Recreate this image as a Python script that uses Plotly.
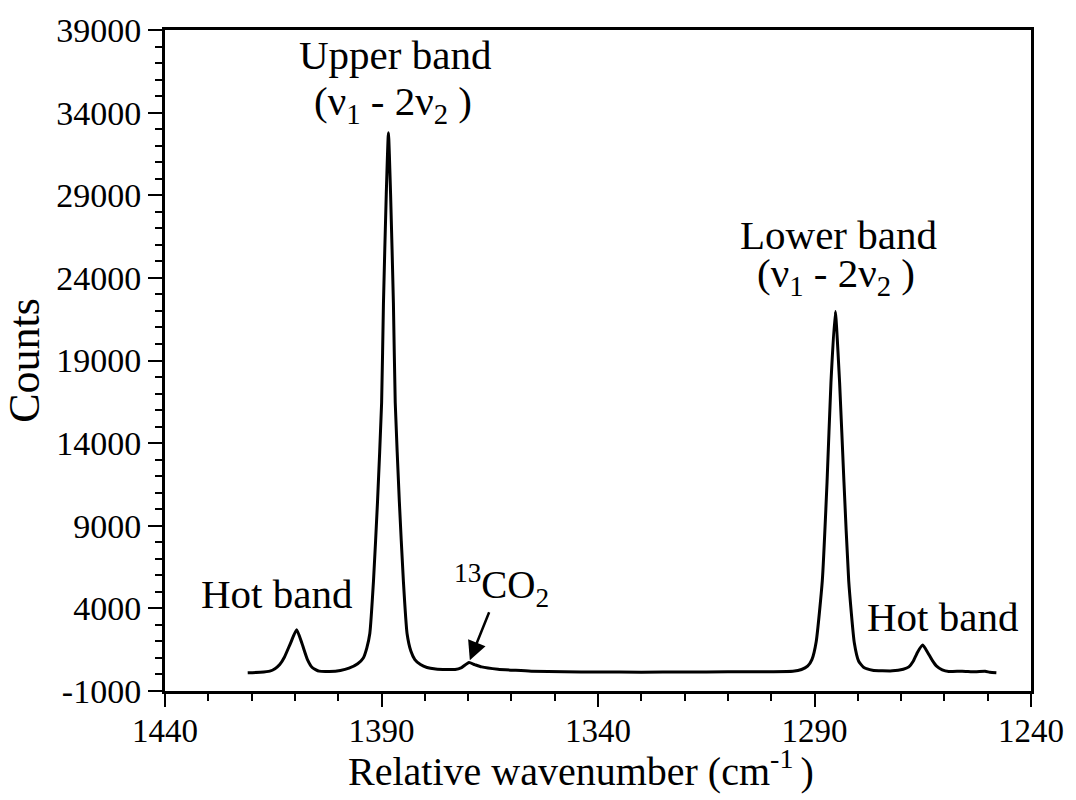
import plotly.graph_objects as go

# Spectrum (wavenumber, counts)
wavenumber = [1420.9, 1418.0, 1415.8, 1414.6, 1413.5, 1412.4, 1411.0, 1409.6, 1408.4, 1407.1,
              1406.0, 1404.4, 1402.0, 1399.5, 1397.5, 1395.5, 1394.2, 1393.4, 1392.7, 1391.85,
              1390.92, 1389.97, 1389.55, 1388.9, 1388.4, 1387.9, 1387.25, 1386.83, 1385.88, 1384.95,
              1384.1, 1383.2, 1382.3, 1381.0, 1379.5, 1377.5, 1375.0, 1373.0, 1371.5, 1369.8,
              1368.5, 1366.9, 1363.1, 1359.0, 1355.4, 1347.8, 1340.0, 1330.0, 1320.0, 1310.0,
              1300.0, 1295.0, 1293.0, 1291.6, 1290.6, 1289.6, 1288.2, 1287.1, 1286.2, 1285.2,
              1284.2, 1283.2, 1282.1, 1280.8, 1279.8, 1278.6, 1276.6, 1272.0, 1269.5, 1268.2,
              1267.2, 1266.2, 1265.0, 1263.9, 1262.8, 1261.8, 1260.5, 1259.0, 1255.9, 1252.9,
              1250.6, 1249.5, 1248.0]
counts = [100, 130, 200, 350, 600, 1060, 1900, 2700, 1900, 900,
          420, 200, 180, 240, 380, 650, 1000, 1600, 2480, 5660,
          10460, 16460, 22460, 29060, 32780, 29060, 22460, 16460, 10460, 5660,
          2480, 1400, 900, 600, 420, 330, 300, 300, 420, 720,
          600, 460, 320, 250, 200, 160, 150, 140, 150, 160,
          170, 200, 300, 500, 900, 2000, 5660, 11660, 17660, 21960,
          17660, 11660, 5660, 1900, 800, 420, 260, 220, 320, 460,
          800, 1350, 1780, 1350, 850, 500, 280, 180, 200, 160,
          200, 130, 100]

x_tickvals = [1440, 1390, 1340, 1290, 1240]
x_ticktext = ["1440", "1390", "1340", "1290", "1240"]
y_tickvals = [-1000, 4000, 9000, 14000, 19000, 24000, 29000, 34000, 39000]
y_ticktext = ["-1000", "4000", "9000", "14000", "19000", "24000", "29000", "34000", "39000"]

FONT = "Liberation Serif"

fig = go.Figure()
fig.add_trace(go.Scatter(x=wavenumber, y=counts, mode="lines",
                         line=dict(color="black", width=3, shape="spline", smoothing=0.5),
                         showlegend=False, hoverinfo="skip"))

def label(text, x, y, size=41):
    fig.add_annotation(x=x, y=y, xref="x", yref="y", text=text, showarrow=False,
                       xanchor="center", yanchor="middle",
                       font=dict(family=FONT, size=size, color="black"))

label("Upper band", 1386.96, 37500)
label("(ν<sub>1</sub> - 2ν<sub>2</sub> )", 1387.4, 34500)
label("Lower band", 1284.5, 26600)
label("(ν<sub>1</sub> - 2ν<sub>2</sub> )", 1285.0, 24100)
label("Hot band", 1414.3, 4900)
label("Hot band", 1260.4, 3500)
label("<sup>13</sup>CO<sub>2</sub>", 1362.2, 5400, size=39)

fig.add_annotation(x=1369.6, y=860, ax=1365.0, ay=3860, xref="x", yref="y",
                   axref="x", ayref="y", text="", showarrow=True,
                   arrowhead=2, arrowsize=1.5, arrowwidth=2.5, arrowcolor="black")

# x-axis title (placed as paper text to match the reference's slightly left offset)
fig.add_annotation(x=0.48, y=-0.118, xref="paper", yref="paper",
                   text="Relative wavenumber (cm<sup>-1 </sup>)", showarrow=False,
                   xanchor="center", yanchor="middle",
                   font=dict(family=FONT, size=40, color="black"))

fig.update_layout(
    width=1076, height=800,
    margin=dict(l=165, r=40, t=24, b=109),
    paper_bgcolor="white", plot_bgcolor="white",
    font=dict(family=FONT, color="black"),
)
fig.update_xaxes(
    range=[1440, 1240], tickvals=x_tickvals, ticktext=x_ticktext,
    ticks="outside", ticklen=13, tickwidth=2, tickcolor="black",
    minor=dict(dtick=10, tick0=1240, ticks="outside", ticklen=7, tickwidth=2, tickcolor="black"),
    showline=True, linewidth=3, linecolor="black", mirror=True,
    showgrid=False, zeroline=False, ticklabelstandoff=-5,
    tickfont=dict(family=FONT, size=33, color="black"),
)
fig.update_yaxes(
    range=[-1000, 39000], tickvals=y_tickvals, ticktext=y_ticktext,
    ticks="outside", ticklen=14, tickwidth=2, tickcolor="black",
    minor=dict(dtick=1000, tick0=-1000, ticks="outside", ticklen=7, tickwidth=2, tickcolor="black"),
    showline=True, linewidth=3, linecolor="black", mirror=True,
    showgrid=False, zeroline=False,
    tickfont=dict(family=FONT, size=34, color="black"),
    title=dict(text="Counts", font=dict(family=FONT, size=44, color="black"), standoff=12),
)

fig.write_html("out.html")
